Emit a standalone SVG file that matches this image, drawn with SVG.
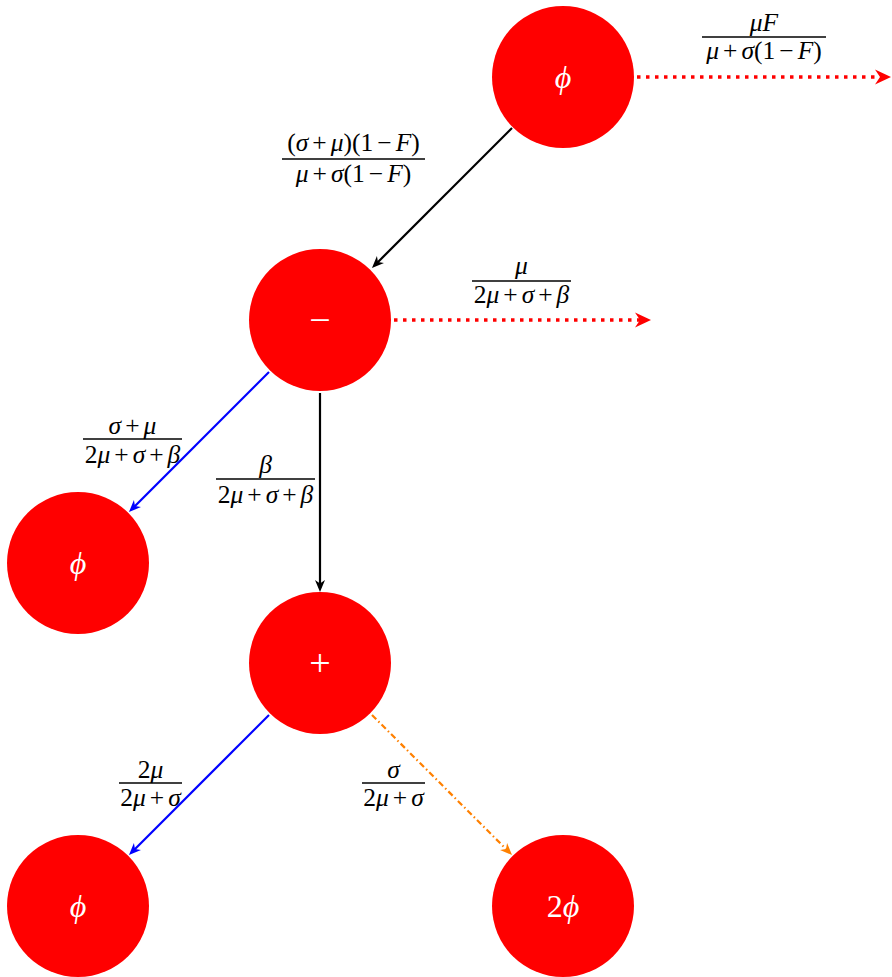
<svg xmlns="http://www.w3.org/2000/svg" width="892" height="977" viewBox="0 0 892 977">
<style>
.node{fill:#ff0000}
.nl{font-family:"Liberation Serif","DejaVu Serif",serif;font-size:32px;fill:#ffffff;text-anchor:middle}
.op{font-size:38px}
.i{font-style:italic}
.m{font-family:"Liberation Serif","DejaVu Serif",serif;font-size:25.5px;fill:#000000;text-anchor:middle}
.bar{stroke:#000000;stroke-width:1.3}
.blk{stroke:#000000;stroke-width:2.2;fill:none}
.blu{stroke:#0000ff;stroke-width:2.2;fill:none}
.red{stroke:#ff0000;stroke-width:3.5;fill:none;stroke-dasharray:3.5 5.5}
.org{stroke:#ff8000;stroke-width:2.2;fill:none;stroke-dasharray:6 3 1.5 3}
</style>
<defs>
<marker id="ak" viewBox="-14 -7 16 14" refX="-4" refY="0" markerWidth="16" markerHeight="14" markerUnits="userSpaceOnUse" orient="auto">
<path d="M0,0 L-12,-5 L-8.5,0 L-12,5 Z" fill="#000000"/>
</marker>
<marker id="ab" viewBox="-14 -7 16 14" refX="-4" refY="0" markerWidth="16" markerHeight="14" markerUnits="userSpaceOnUse" orient="auto">
<path d="M0,0 L-12,-5 L-8.5,0 L-12,5 Z" fill="#0000ff"/>
</marker>
<marker id="ao" viewBox="-14 -7 16 14" refX="-4" refY="0" markerWidth="16" markerHeight="14" markerUnits="userSpaceOnUse" orient="auto">
<path d="M0,0 L-12,-5 L-8.5,0 L-12,5 Z" fill="#ff8000"/>
</marker>
<marker id="ar" viewBox="-18 -9 20 18" refX="-4" refY="0" markerWidth="20" markerHeight="18" markerUnits="userSpaceOnUse" orient="auto">
<path d="M0,0 L-16,-7.5 L-11,0 L-16,7.5 Z" fill="#ff0000"/>
</marker>
</defs>

<g id="connectors">
<line class="blk" x1="512" y1="128" x2="374.8" y2="265.2" marker-end="url(#ak)"/>
<line class="red" x1="637" y1="77" x2="887" y2="77" marker-end="url(#ar)"/>
<line class="red" x1="394" y1="320" x2="647" y2="320" marker-end="url(#ar)"/>
<line class="blu" x1="269" y1="372" x2="131.8" y2="509.2" marker-end="url(#ab)"/>
<line class="blk" x1="320" y1="393" x2="320" y2="588" marker-end="url(#ak)"/>
<line class="blu" x1="269" y1="715" x2="131.8" y2="852.2" marker-end="url(#ab)"/>
<line class="org" x1="372" y1="715" x2="509.2" y2="852.2" marker-end="url(#ao)"/>

<g id="label-top-right">
<text class="m" x="764" y="31"><tspan class="i">μF</tspan></text>
<line class="bar" x1="702" y1="37" x2="826" y2="37"/>
<text class="m" x="764" y="59"><tspan class="i">μ</tspan><tspan dx="4">+</tspan><tspan class="i" dx="4">σ</tspan>(1<tspan dx="4">−</tspan><tspan class="i" dx="4">F</tspan>)</text>
</g>
<g id="label-top-minus">
<text class="m" x="353.5" y="151">(<tspan class="i">σ</tspan><tspan dx="4">+</tspan><tspan class="i" dx="4">μ</tspan>)(1<tspan dx="4">−</tspan><tspan class="i" dx="4">F</tspan>)</text>
<line class="bar" x1="282" y1="159" x2="425" y2="159"/>
<text class="m" x="353.5" y="182"><tspan class="i">μ</tspan><tspan dx="4">+</tspan><tspan class="i" dx="4">σ</tspan>(1<tspan dx="4">−</tspan><tspan class="i" dx="4">F</tspan>)</text>
</g>
<g id="label-minus-right">
<text class="m" x="521.5" y="274"><tspan class="i">μ</tspan></text>
<line class="bar" x1="472" y1="281" x2="571" y2="281"/>
<text class="m" x="521.5" y="303">2<tspan class="i">μ</tspan><tspan dx="4">+</tspan><tspan class="i" dx="4">σ</tspan><tspan dx="4">+</tspan><tspan class="i" dx="4">β</tspan></text>
</g>
<g id="label-minus-phi">
<text class="m" x="132.5" y="434"><tspan class="i">σ</tspan><tspan dx="4">+</tspan><tspan class="i" dx="4">μ</tspan></text>
<line class="bar" x1="83" y1="439" x2="182" y2="439"/>
<text class="m" x="132.5" y="463">2<tspan class="i">μ</tspan><tspan dx="4">+</tspan><tspan class="i" dx="4">σ</tspan><tspan dx="4">+</tspan><tspan class="i" dx="4">β</tspan></text>
</g>
<g id="label-minus-plus">
<text class="m" x="265.5" y="473"><tspan class="i">β</tspan></text>
<line class="bar" x1="216" y1="479" x2="315" y2="479"/>
<text class="m" x="265.5" y="503">2<tspan class="i">μ</tspan><tspan dx="4">+</tspan><tspan class="i" dx="4">σ</tspan><tspan dx="4">+</tspan><tspan class="i" dx="4">β</tspan></text>
</g>
<g id="label-plus-phi">
<text class="m" x="150.5" y="778">2<tspan class="i">μ</tspan></text>
<line class="bar" x1="119" y1="783" x2="182" y2="783"/>
<text class="m" x="150.5" y="806">2<tspan class="i">μ</tspan><tspan dx="4">+</tspan><tspan class="i" dx="4">σ</tspan></text>
</g>
<g id="label-plus-2phi">
<text class="m" x="393.5" y="778"><tspan class="i">σ</tspan></text>
<line class="bar" x1="362" y1="783" x2="425" y2="783"/>
<text class="m" x="393.5" y="806">2<tspan class="i">μ</tspan><tspan dx="4">+</tspan><tspan class="i" dx="4">σ</tspan></text>
</g>
</g>

<g id="node-top">
<circle class="node" cx="563" cy="77" r="71"/>
<text class="nl i" x="563" y="88">ϕ</text>
</g>
<g id="node-minus">
<circle class="node" cx="320" cy="320" r="71"/>
<text class="nl op" x="320" y="333">−</text>
</g>
<g id="node-phi-left">
<circle class="node" cx="78" cy="563" r="71"/>
<text class="nl i" x="78" y="574">ϕ</text>
</g>
<g id="node-plus">
<circle class="node" cx="320" cy="663" r="71"/>
<text class="nl op" x="320" y="676">+</text>
</g>
<g id="node-phi-bottom">
<circle class="node" cx="78" cy="906" r="71"/>
<text class="nl i" x="78" y="917">ϕ</text>
</g>
<g id="node-2phi">
<circle class="node" cx="563" cy="906" r="71"/>
<text class="nl" x="563" y="917">2<tspan class="i">ϕ</tspan></text>
</g>
</svg>
